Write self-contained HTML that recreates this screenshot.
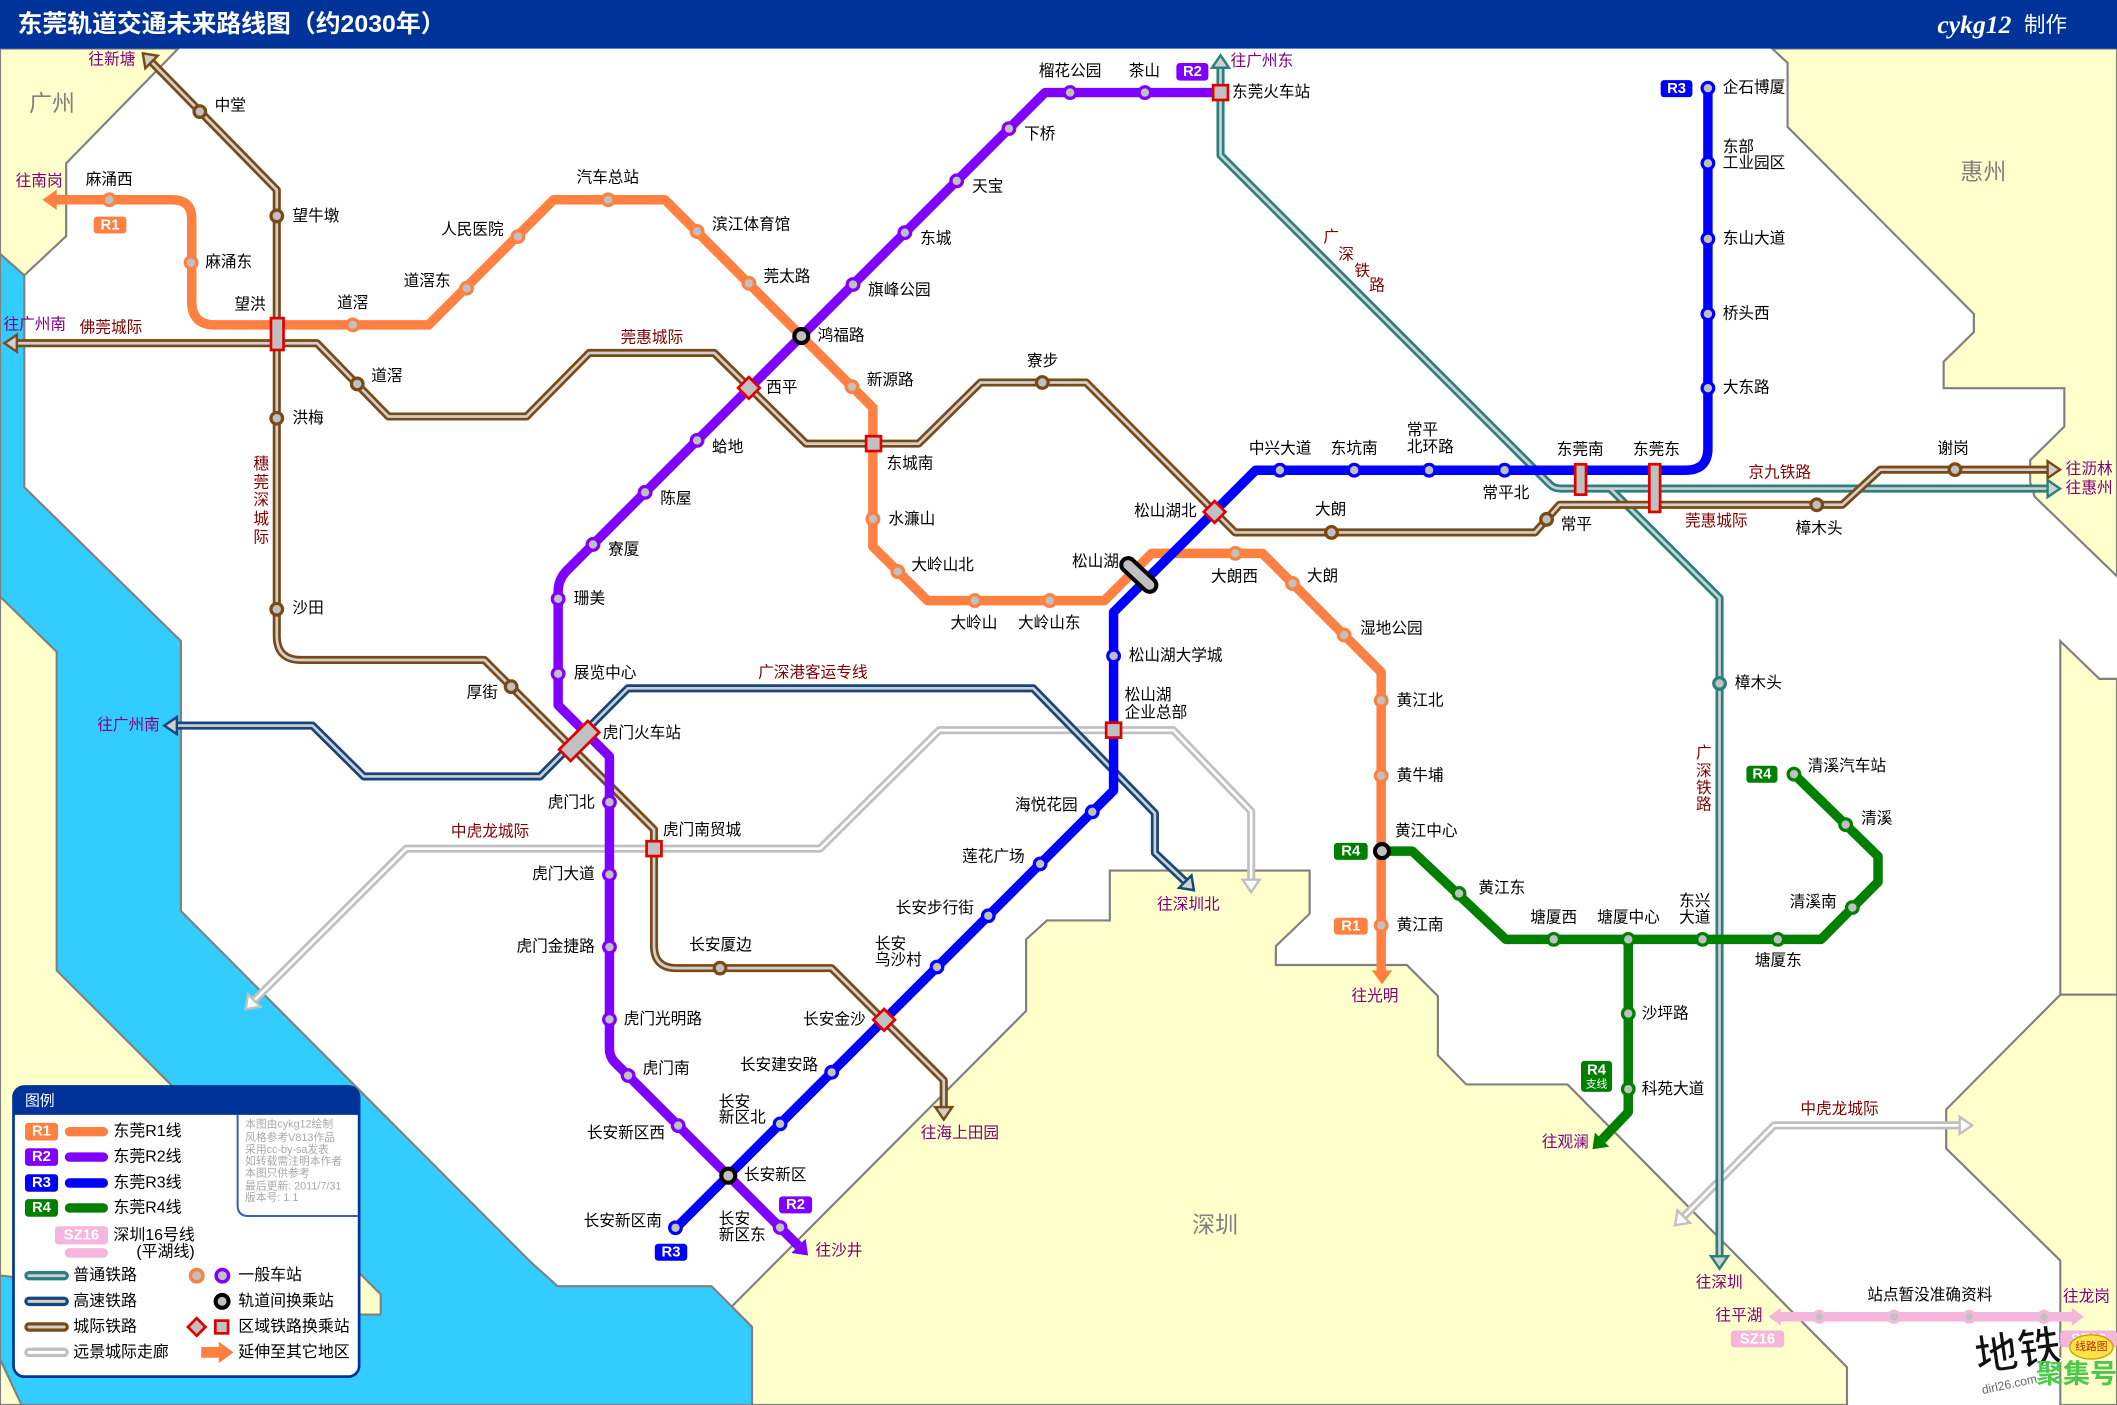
<!DOCTYPE html>
<html><head><meta charset="utf-8">
<style>
html,body{margin:0;padding:0;background:#fff;}
svg{display:block;}
text{font-family:"Liberation Sans","Noto Sans CJK SC","WenQuanYi Zen Hei",sans-serif;dominant-baseline:central;}
.s{font-size:11.6px;fill:#000;}
.e{font-size:11.6px;fill:#000;text-anchor:end;}
.d{font-size:11.6px;fill:#800080;}
.r{font-size:11.6px;fill:#800000;}
.rm{font-size:11.6px;fill:#800000;text-anchor:middle;}
.g{font-size:17px;fill:#808080;}
.b{font-size:11px;fill:#fff;font-weight:bold;text-anchor:middle;}
.lg{font-size:11.8px;fill:#000;}
.cr{font-size:8px;fill:#A8A8A8;}
</style></head><body>
<svg width="2117" height="1405" viewBox="0 0 1568 1041" preserveAspectRatio="none" xmlns="http://www.w3.org/2000/svg">
<rect width="1568" height="1041" fill="#fff"/>
<!-- land & water -->
<g stroke="#808080" stroke-width="1.6" stroke-linejoin="miter">
<polygon fill="#33CCFF" points="0,188 18,204 18,361 134,475 134,675 393,935 413,953 527,953 542,968 557,983 557,1041 0,1041"/>
<polygon fill="#FFFFCC" points="0,442 42,483 42,719 282,959 282,974 240,974 0,945"/>
<polygon fill="#FFFFCC" points="0,1007 16,1041 0,1041"/>
<polygon fill="#FFFFCC" points="0,36 132,36 49,121 49,175 18,204 0,188"/>
<polygon fill="#FFFFCC" points="1312.6,36 1568,36 1568,427 1507,368 1503.7,357.5 1503.7,341 1529,316 1529,287.6 1439.6,287.6 1439.6,268 1462,246 1462,232.6 1324,94 1324,46.6"/>
<polygon fill="#FFFFCC" points="1526,475 1555,503 1568,503 1568,737 1526,737"/>
<polygon fill="#FFFFCC" points="1526,737 1568,737 1568,1041 1526,1041 1526,934 1441.5,851 1441.5,822"/>
<polygon fill="#FFFFCC" points="557,1041 557,983 542,968 760,749 760,696 775.5,682 822,682 822,645 970,645 970,677 945,701 945,715 1042,715 1065,738 1065,782 1086,803.5 1161,803.5 1368,1013 1368,1041"/>
</g>
<text class="g" x="21.5" y="76.5">广州</text>
<text class="g" x="1452" y="127">惠州</text>
<text class="g" x="883" y="907.4">深圳</text>

<!-- header -->
<rect x="0" y="0" width="1568" height="36" fill="#003399"/>
<text x="13" y="18" font-size="18" font-weight="bold" fill="#fff" textLength="317" lengthAdjust="spacingAndGlyphs">东莞轨道交通未来路线图（约2030年）</text>
<text x="1435" y="18" font-size="19" font-style="italic" font-weight="bold" fill="#fff" style="font-family:'Liberation Serif',serif">cykg12</text>
<text x="1499" y="18" font-size="16" fill="#fff">制作</text>

<!-- future corridors -->
<g fill="none" stroke-linejoin="round">
<g stroke="#C0C0C0" stroke-width="6">
<path d="M188,741.5 L300.9,628.8 L607.4,628.8 L695.7,541 L869,541 L926.7,601 L926.7,652"/>
<path d="M1247,901.5 L1314,833.8 L1452,833.8"/>
</g>
<g stroke="#fff" stroke-width="2">
<path d="M188,741.5 L300.9,628.8 L607.4,628.8 L695.7,541 L869,541 L926.7,601 L926.7,652"/>
<path d="M1247,901.5 L1314,833.8 L1452,833.8"/>
</g>
</g>
<g fill="#fff" stroke="#C0C0C0" stroke-width="1.8">
<polygon points="181.9,747.7 192.9,745.9 183.7,736.7"/>
<polygon points="926.7,661 920.4,651.8 933,651.8"/>
<polygon points="1240.7,907.8 1251.7,906 1242.5,896.8"/>
<polygon points="1460.7,833.8 1451.5,827.5 1451.5,840.1"/>
</g>

<!-- high speed -->
<g fill="none" stroke-linejoin="round">
<path stroke="#17467A" stroke-width="6" d="M131,537.6 L231.5,537.6 L269.5,575.3 L400,575.3 L465,510 L765.3,510 L855.4,602.5 L855.4,631.9 L877.9,653.2"/>
<path stroke="#D0D0D0" stroke-width="2" d="M131,537.6 L231.5,537.6 L269.5,575.3 L400,575.3 L465,510 L765.3,510 L855.4,602.5 L855.4,631.9 L877.9,653.2"/>
<!-- teal -->
<path stroke="#2A8080" stroke-width="6" d="M904,50.2 L904,115 L1148,359 Q1151,362 1156,362 L1516.6,362"/>
<path stroke="#2A8080" stroke-width="6" d="M1192.6,362 L1273.6,443 L1273.6,930.8"/>
<path stroke="#D0D0D0" stroke-width="2" d="M904,50.2 L904,115 L1148,359 Q1151,362 1156,362 L1516.6,362"/>
<path stroke="#D0D0D0" stroke-width="2" d="M1192.6,362 L1273.6,443 L1273.6,930.8"/>
<!-- brown -->
<path stroke="#7A4A16" stroke-width="6" d="M112.2,45.9 L205,140.7 L205,471 Q205,489 223,489 L358.8,489 L484.4,614.6 L484.4,700.7 Q484.4,717.3 501,717.3 L615.9,717.3 L699,800.4 L699,820.3"/>
<path stroke="#7A4A16" stroke-width="6" d="M12.5,254.3 L234.8,254.3 L287.7,308.6 L390,308.6 L436.4,261.5 L529,261.5 L597,328.7 L680.4,328.7 L726.3,283.4 L804.5,283.4 L914.8,394.5 L1137,394.5 L1155,374 L1364.6,374 L1392.6,348 L1516.6,348"/>
<path stroke="#D0D0D0" stroke-width="2" d="M112.2,45.9 L205,140.7 L205,471 Q205,489 223,489 L358.8,489 L484.4,614.6 L484.4,700.7 Q484.4,717.3 501,717.3 L615.9,717.3 L699,800.4 L699,820.3"/>
<path stroke="#D0D0D0" stroke-width="2" d="M12.5,254.3 L234.8,254.3 L287.7,308.6 L390,308.6 L436.4,261.5 L529,261.5 L597,328.7 L680.4,328.7 L726.3,283.4 L804.5,283.4 L914.8,394.5 L1137,394.5 L1155,374 L1364.6,374 L1392.6,348 L1516.6,348"/>
</g>
<g fill="#D0D0D0" stroke-width="1.8">
<polygon stroke="#7A4A16" points="105.8,39.5 116.8,41.3 107.6,50.5"/>
<polygon stroke="#7A4A16" points="3.3,254.3 12.5,248 12.5,260.6"/>
<polygon stroke="#7A4A16" points="699,829.5 692.7,820.3 705.3,820.3"/>
<polygon stroke="#7A4A16" points="1525.8,348 1516.6,341.7 1516.6,354.3"/>
<polygon stroke="#17467A" points="121.7,537.6 131,531.3 131,543.9"/>
<polygon stroke="#17467A" points="884.3,659.6 882.5,648.6 873.3,657.8"/>
<polygon stroke="#2A8080" points="1525.8,362 1516.6,355.7 1516.6,368.3"/>
<polygon stroke="#2A8080" points="904,41 897.7,50.2 910.3,50.2"/>
<polygon stroke="#2A8080" points="1273.6,940 1267.3,930.8 1279.9,930.8"/>
</g>

<!-- metro lines -->
<g fill="none" stroke-width="7" stroke-linejoin="round">
<path stroke="#FF8040" d="M41,148 L127.3,148 Q142,148 142,162 L142,223.5 Q142,240.7 159,240.7 L317.5,240.7 L410,148 L492.5,148 L646.5,302 L646.5,405 L687,445 L818,445 L853,410 L935,410 L1023,498 L1023,720"/>
<path stroke="#8000FF" d="M904,68.6 L774,68.6 L420,422.6 Q413.4,429.2 413.4,438.5 L413.4,522.5 L451.4,560.5 L451.4,777 Q451.4,783.1 455.7,787.4 L591.4,923.1"/>
<path stroke="#0000FF" d="M1265,65.3 L1265,332 Q1265,348.4 1248.6,348.4 L930,348.4 L824.8,453.6 L824.8,585.7 L500.3,910.2"/>
<path stroke="#008000" d="M1023.6,630.6 L1046,630.6 L1115.3,696 L1348.8,696 L1391,653.5 L1391,634.4 L1328.7,573.6"/>
<path stroke="#008000" d="M1206,696 L1206,824 L1186.6,844.4"/>
<path stroke="#F4B6DA" d="M1318,975.6 L1536,975.6"/>
</g>
<polygon fill="#FF8040" points="31.4,148 42,140.5 42,155.5"/>
<polygon fill="#FF8040" points="1023.6,729.3 1016,719 1031.2,719"/>
<polygon fill="#8000FF" points="598.5,930.2 596.7,917.8 586.1,928.4"/>
<polygon fill="#008000" points="1179.5,851.5 1191.9,849.7 1181.3,839.1"/>
<polygon fill="#F4B6DA" points="1310,975.6 1319,969 1319,982.2"/>
<polygon fill="#F4B6DA" points="1543.6,975.6 1534.6,969 1534.6,982.2"/>

<!-- stations -->
<g fill="#C0C0C0" stroke-width="2.4">
<g stroke="#FF8040">
<circle cx="81" cy="148" r="4.3"/><circle cx="141.5" cy="194.6" r="4.3"/><circle cx="261.3" cy="240.7" r="4.3"/><circle cx="345.6" cy="213.6" r="4.3"/><circle cx="383.6" cy="175.3" r="4.3"/><circle cx="450.4" cy="148" r="4.3"/><circle cx="516.3" cy="171.5" r="4.3"/><circle cx="554.7" cy="209.9" r="4.3"/><circle cx="631" cy="286.5" r="4.3"/><circle cx="646.5" cy="384.5" r="4.3"/><circle cx="665" cy="423.5" r="4.3"/><circle cx="722" cy="445" r="4.3"/><circle cx="777.5" cy="445" r="4.3"/><circle cx="915" cy="410" r="4.3"/><circle cx="957.3" cy="432.3" r="4.3"/><circle cx="995.5" cy="470.5" r="4.3"/><circle cx="1023" cy="519" r="4.3"/><circle cx="1023" cy="574.7" r="4.3"/><circle cx="1023" cy="685.6" r="4.3"/>
</g>
<g stroke="#8000FF">
<circle cx="792.6" cy="68.6" r="4.3"/><circle cx="848" cy="68.6" r="4.3"/><circle cx="747.3" cy="95.3" r="4.3"/><circle cx="708.6" cy="134" r="4.3"/><circle cx="670.2" cy="172.4" r="4.3"/><circle cx="631.8" cy="210.8" r="4.3"/><circle cx="516.3" cy="326.3" r="4.3"/><circle cx="477.8" cy="364.8" r="4.3"/><circle cx="439.2" cy="403.4" r="4.3"/><circle cx="413.4" cy="443.7" r="4.3"/><circle cx="413.4" cy="499.2" r="4.3"/><circle cx="451.4" cy="594.4" r="4.3"/><circle cx="451.4" cy="648" r="4.3"/><circle cx="451.4" cy="701.7" r="4.3"/><circle cx="451.4" cy="755.3" r="4.3"/><circle cx="465.2" cy="796.9" r="4.3"/><circle cx="502.3" cy="834" r="4.3"/><circle cx="577.8" cy="909.5" r="4.3"/>
</g>
<g stroke="#0000FF">
<circle cx="1265" cy="65.3" r="4.3"/><circle cx="1265" cy="121" r="4.3"/><circle cx="1265" cy="177" r="4.3"/><circle cx="1265" cy="232.6" r="4.3"/><circle cx="1265" cy="287.6" r="4.3"/><circle cx="1114.4" cy="348.4" r="4.3"/><circle cx="1058.5" cy="348.4" r="4.3"/><circle cx="1003" cy="348.4" r="4.3"/><circle cx="948" cy="348.4" r="4.3"/><circle cx="824.8" cy="486" r="4.3"/><circle cx="809" cy="601.5" r="4.3"/><circle cx="770.4" cy="640.1" r="4.3"/><circle cx="732" cy="678.5" r="4.3"/><circle cx="694" cy="716.5" r="4.3"/><circle cx="616" cy="794.5" r="4.3"/><circle cx="577.8" cy="832.7" r="4.3"/><circle cx="500.3" cy="909.7" r="4.3"/>
</g>
<g stroke="#008000">
<circle cx="1080.7" cy="662" r="4.3"/><circle cx="1150.8" cy="696" r="4.3"/><circle cx="1206" cy="696" r="4.3"/><circle cx="1261" cy="696" r="4.3"/><circle cx="1316.8" cy="696" r="4.3"/><circle cx="1372" cy="672.4" r="4.3"/><circle cx="1367" cy="611" r="4.3"/><circle cx="1328.7" cy="573.6" r="4.3"/><circle cx="1206" cy="751" r="4.3"/><circle cx="1206" cy="807" r="4.3"/>
</g>
<g stroke="#F4B6DA">
<circle cx="1347.5" cy="975.6" r="4"/><circle cx="1402.8" cy="975.6" r="4"/><circle cx="1458.5" cy="975.6" r="4"/><circle cx="1513.9" cy="975.6" r="4"/>
</g>
<g stroke="#7A4A16">
<circle cx="148" cy="82.7" r="4.3"/><circle cx="205" cy="160" r="4.3"/><circle cx="205" cy="309.9" r="4.3"/><circle cx="205" cy="451.4" r="4.3"/><circle cx="378.6" cy="508.8" r="4.3"/><circle cx="264.6" cy="284.5" r="4.3"/><circle cx="772" cy="283.4" r="4.3"/><circle cx="986.2" cy="394.5" r="4.3"/><circle cx="1145.5" cy="384.8" r="4.3"/><circle cx="1345.6" cy="374" r="4.3"/><circle cx="1448" cy="348" r="4.3"/><circle cx="533.3" cy="717.3" r="4.3"/>
</g>
<circle stroke="#2A8080" cx="1273.6" cy="506.4" r="4.3"/>
<g stroke="#000" stroke-width="3">
<circle cx="593.5" cy="249" r="5.2"/><circle cx="539.4" cy="871.1" r="5.2"/><circle cx="1023.6" cy="630.6" r="5.2"/>
</g>
</g>
<!-- 松山湖 pill -->
<path d="M835.5,418.5 L851.5,433.5" stroke="#000" stroke-width="13" stroke-linecap="round"/>
<path d="M835.5,418.5 L851.5,433.5" stroke="#C0C0C0" stroke-width="7" stroke-linecap="round"/>
<!-- regional interchanges -->
<g fill="#C0C0C0" stroke="#E00000" stroke-width="2">
<rect x="200.7" y="235.7" width="9.3" height="23.6"/>
<rect x="898.5" y="63.1" width="11" height="11"/>
<rect x="641.5" y="323.2" width="11" height="11"/>
<rect x="819.3" y="535.5" width="11" height="11"/>
<rect x="478.9" y="623.3" width="11" height="11"/>
<rect x="1166.7" y="344" width="8" height="22.5"/>
<rect x="1221.6" y="344" width="8" height="35.3"/>
<polygon points="554.7,279.4 562.7,287.4 554.7,295.4 546.7,287.4"/>
<polygon points="899.6,371.3 907.6,379.3 899.6,387.3 891.6,379.3"/>
<polygon points="654.8,747.6 662.8,755.6 654.8,763.6 646.8,755.6"/>
<rect x="-15" y="-6" width="30" height="12" transform="translate(429,549) rotate(-45)"/>
</g>

<!-- badges -->
<g>
<rect x="69.4" y="160.5" width="24.2" height="12.5" rx="2.5" fill="#FF8040"/><text class="b" x="81.5" y="167">R1</text>
<rect x="988" y="680" width="25" height="12.5" rx="2.5" fill="#FF8040"/><text class="b" x="1000.5" y="686.5">R1</text>
<rect x="871.3" y="46.7" width="23.7" height="13" rx="2.5" fill="#8000FF"/><text class="b" x="883.2" y="53.4">R2</text>
<rect x="577" y="886.4" width="24.5" height="12.6" rx="2.5" fill="#8000FF"/><text class="b" x="589.2" y="892.9">R2</text>
<rect x="1230" y="59.4" width="23.5" height="12.6" rx="2.5" fill="#0000FF"/><text class="b" x="1241.8" y="65.9">R3</text>
<rect x="485" y="921.5" width="24" height="12.6" rx="2.5" fill="#0000FF"/><text class="b" x="497" y="928">R3</text>
<rect x="988" y="624.5" width="25" height="12.6" rx="2.5" fill="#008000"/><text class="b" x="1000.5" y="631">R4</text>
<rect x="1293.5" y="567.4" width="23" height="12.6" rx="2.5" fill="#008000"/><text class="b" x="1305" y="573.9">R4</text>
<rect x="1171" y="786" width="23" height="23" rx="2.5" fill="#008000"/><text class="b" x="1182.5" y="793">R4</text><text x="1182.5" y="803.5" font-size="8" fill="#fff" text-anchor="middle">支线</text>
<rect x="1282" y="985.8" width="39.5" height="12.5" rx="2.5" fill="#F4B6DA"/><text class="b" x="1301.7" y="992.3">SZ16</text>
<rect x="1526" y="985.8" width="42" height="12.5" rx="2.5" fill="#F4B6DA"/><text class="b" x="1547" y="992.3">SZ16</text>
</g>

<!-- station labels -->
<g>
<text class="s" x="63.5" y="133.3">麻涌西</text>
<text class="s" x="152" y="194.6">麻涌东</text>
<text class="s" x="173.6" y="226">望洪</text>
<text class="s" x="249.7" y="224.7">道滘</text>
<text class="s" x="299" y="208.6">道滘东</text>
<text class="s" x="326.7" y="170.4">人民医院</text>
<text class="s" x="427" y="132">汽车总站</text>
<text class="s" x="527.4" y="166.7">滨江体育馆</text>
<text class="s" x="565.5" y="205.2">莞太路</text>
<text class="s" x="605.6" y="249">鸿福路</text>
<text class="s" x="642" y="282">新源路</text>
<text class="s" x="656.6" y="343.7">东城南</text>
<text class="s" x="658" y="385">水濂山</text>
<text class="s" x="675" y="419">大岭山北</text>
<text class="s" x="704" y="462">大岭山</text>
<text class="s" x="754" y="462">大岭山东</text>
<text class="s" x="794" y="416.3">松山湖</text>
<text class="s" x="897" y="427.4">大朗西</text>
<text class="s" x="968" y="427">大朗</text>
<text class="s" x="1007.4" y="466">湿地公园</text>
<text class="s" x="1034.4" y="519.3">黄江北</text>
<text class="s" x="1034.4" y="574.8">黄牛埔</text>
<text class="s" x="1033.2" y="616.1">黄江中心</text>
<text class="s" x="1034.4" y="685.6">黄江南</text>
<text class="s" x="769.4" y="53">榴花公园</text>
<text class="s" x="836" y="53">茶山</text>
<text class="s" x="912.5" y="68.6">东莞火车站</text>
<text class="s" x="758.5" y="99.6">下桥</text>
<text class="s" x="720" y="138.5">天宝</text>
<text class="s" x="681.5" y="177">东城</text>
<text class="s" x="643" y="215.3">旗峰公园</text>
<text class="s" x="567.5" y="287.4">西平</text>
<text class="s" x="527.4" y="331.4">蛤地</text>
<text class="s" x="489" y="369.6">陈屋</text>
<text class="s" x="450.4" y="407.4">寮厦</text>
<text class="s" x="425" y="443.7">珊美</text>
<text class="s" x="425" y="499.2">展览中心</text>
<text class="s" x="446.4" y="543.6">虎门火车站</text>
<text class="e" x="440.5" y="595">虎门北</text>
<text class="e" x="440.5" y="648">虎门大道</text>
<text class="e" x="440.5" y="701.7">虎门金捷路</text>
<text class="s" x="462" y="755.3">虎门光明路</text>
<text class="s" x="476" y="792">虎门南</text>
<text class="e" x="492.6" y="840">长安新区西</text>
<text class="s" x="551" y="871">长安新区</text>
<text class="s" x="532.4" y="903.7">长安</text>
<text class="s" x="532.4" y="915.6">新区东</text>
<text class="s" x="1276" y="65.3">企石博厦</text>
<text class="s" x="1276" y="109.2">东部</text>
<text class="s" x="1276" y="121">工业园区</text>
<text class="s" x="1276" y="177">东山大道</text>
<text class="s" x="1276" y="232.6">桥头西</text>
<text class="s" x="1276" y="287.6">大东路</text>
<text class="s" x="1209.5" y="333.6">东莞东</text>
<text class="s" x="1153" y="333.6">东莞南</text>
<text class="s" x="1098" y="365.7">常平北</text>
<text class="s" x="1042" y="319">常平</text>
<text class="s" x="1042" y="331.4">北环路</text>
<text class="s" x="985.6" y="332.8">东坑南</text>
<text class="s" x="925" y="332.8">中兴大道</text>
<text class="s" x="840" y="379">松山湖北</text>
<text class="s" x="836" y="486">松山湖大学城</text>
<text class="s" x="833" y="515.3">松山湖</text>
<text class="s" x="833" y="528.4">企业总部</text>
<text class="s" x="751.8" y="596.7">海悦花园</text>
<text class="s" x="712.6" y="634.8">莲花广场</text>
<text class="s" x="663.4" y="673.3">长安步行街</text>
<text class="s" x="648" y="699.8">长安</text>
<text class="s" x="648" y="711.5">乌沙村</text>
<text class="s" x="594.8" y="755.6">长安金沙</text>
<text class="s" x="548" y="789.6">长安建安路</text>
<text class="s" x="532.4" y="816.8">长安</text>
<text class="s" x="532.4" y="828.4">新区北</text>
<text class="s" x="432.3" y="905">长安新区南</text>
<text class="s" x="1095" y="658.3">黄江东</text>
<text class="s" x="1133.4" y="680">塘厦西</text>
<text class="s" x="1183" y="680">塘厦中心</text>
<text class="s" x="1243.7" y="667.8">东兴</text>
<text class="s" x="1243.7" y="680">大道</text>
<text class="s" x="1299.8" y="712.2">塘厦东</text>
<text class="s" x="1325.6" y="668.6">清溪南</text>
<text class="s" x="1378.5" y="606.7">清溪</text>
<text class="s" x="1339" y="568">清溪汽车站</text>
<text class="s" x="1216" y="751.4">沙坪路</text>
<text class="s" x="1216" y="807.2">科苑大道</text>
<text class="s" x="159" y="78.5">中堂</text>
<text class="s" x="216.6" y="160.5">望牛墩</text>
<text class="s" x="216.6" y="310">洪梅</text>
<text class="s" x="216.6" y="451">沙田</text>
<text class="s" x="345.6" y="513.4">厚街</text>
<text class="s" x="275" y="279">道滘</text>
<text class="s" x="760.7" y="267.8">寮步</text>
<text class="s" x="974" y="377.8">大朗</text>
<text class="s" x="1156" y="388.9">常平</text>
<text class="s" x="1330" y="391.8">樟木头</text>
<text class="s" x="1435" y="332.6">谢岗</text>
<text class="s" x="1285" y="506.4">樟木头</text>
<text class="s" x="510.5" y="700.6">长安厦边</text>
<text class="s" x="491" y="615.5">虎门南贸城</text>
<text class="s" x="1383" y="960">站点暂没准确资料</text>
</g>
<!-- destinations -->
<g>
<text class="d" x="65.5" y="44.4">往新塘</text>
<text class="d" x="11.6" y="134.6">往南岗</text>
<text class="d" x="2.6" y="240.7">往广州南</text>
<text class="d" x="72" y="537.6">往广州南</text>
<text class="d" x="911.5" y="45.6">往广州东</text>
<text class="d" x="1530" y="348">往沥林</text>
<text class="d" x="1530" y="362">往惠州</text>
<text class="d" x="857" y="670.4">往深圳北</text>
<text class="d" x="1001" y="738.5">往光明</text>
<text class="d" x="682" y="840">往海上田园</text>
<text class="d" x="604" y="927">往沙井</text>
<text class="d" x="1142" y="846.4">往观澜</text>
<text class="d" x="1256" y="950.8">往深圳</text>
<text class="d" x="1270.6" y="975">往平湖</text>
<text class="d" x="1528" y="961">往龙岗</text>
</g>
<!-- line names -->
<g>
<text class="r" x="59" y="243">佛莞城际</text>
<text class="r" x="459.6" y="250.4">莞惠城际</text>
<text class="r" x="1248" y="386.3">莞惠城际</text>
<text class="r" x="1295" y="350.6">京九铁路</text>
<text class="r" x="561.5" y="498.5">广深港客运专线</text>
<text class="r" x="334" y="616.3">中虎龙城际</text>
<text class="r" x="1333.5" y="822">中虎龙城际</text>
<text class="rm" x="986" y="176">广</text>
<text class="rm" x="997" y="189">深</text>
<text class="rm" x="1009" y="201">铁</text>
<text class="rm" x="1020" y="212">路</text>
<text class="rm" x="1262" y="558.4">广</text>
<text class="rm" x="1262" y="571.7">深</text>
<text class="rm" x="1262" y="584.2">铁</text>
<text class="rm" x="1262" y="596.3">路</text>
<text class="rm" x="193.5" y="344">穗</text>
<text class="rm" x="193.5" y="357.7">莞</text>
<text class="rm" x="193.5" y="371">深</text>
<text class="rm" x="193.5" y="385">城</text>
<text class="rm" x="193.5" y="398.5">际</text>
</g>

<!-- legend -->
<g>
<rect x="10" y="805" width="256" height="215" rx="8" fill="#fff" stroke="#003399" stroke-width="2"/>
<path d="M10,826 L10,813 Q10,805 18,805 L258,805 Q266,805 266,813 L266,826 Z" fill="#003399"/>
<text x="18.5" y="816" font-size="11" fill="#fff">图例</text>
<path d="M176,826 L176,893 Q176,901 184,901 L265,901" fill="none" stroke="#3A62A8" stroke-width="1.5"/>
<text class="cr" x="181.5" y="833.3">本图由cykg12绘制</text>
<text class="cr" x="181.5" y="843">风格参考V813作品</text>
<text class="cr" x="181.5" y="851.9">采用cc-by-sa发表</text>
<text class="cr" x="181.5" y="860.5">如转载需注明本作者</text>
<text class="cr" x="181.5" y="869.6">本图只供参考</text>
<text class="cr" x="181.5" y="879">最后更新: 2011/7/31</text>
<text class="cr" x="181.5" y="887.7">版本号: 1.1</text>

<rect x="18.5" y="832" width="24.5" height="13" rx="2.5" fill="#FF8040"/><text class="b" x="30.7" y="838.5">R1</text>
<rect x="18.5" y="850.8" width="24.5" height="13" rx="2.5" fill="#8000FF"/><text class="b" x="30.7" y="857.3">R2</text>
<rect x="18.5" y="870" width="24.5" height="13" rx="2.5" fill="#0000FF"/><text class="b" x="30.7" y="876.5">R3</text>
<rect x="18.5" y="888.5" width="24.5" height="13" rx="2.5" fill="#008000"/><text class="b" x="30.7" y="895">R4</text>
<rect x="40.7" y="908.6" width="39.3" height="13.4" rx="2.5" fill="#F4B6DA"/><text class="b" x="60.3" y="915.3">SZ16</text>
<g stroke-width="7" stroke-linecap="round">
<line x1="51.5" y1="838.5" x2="76.5" y2="838.5" stroke="#FF8040"/>
<line x1="51.5" y1="857.3" x2="76.5" y2="857.3" stroke="#8000FF"/>
<line x1="51.5" y1="876.5" x2="76.5" y2="876.5" stroke="#0000FF"/>
<line x1="51.5" y1="895" x2="76.5" y2="895" stroke="#008000"/>
<line x1="51.5" y1="928.3" x2="76.5" y2="928.3" stroke="#F4B6DA"/>
</g>
<text class="lg" x="84" y="838.5">东莞R1线</text>
<text class="lg" x="84" y="857.3">东莞R2线</text>
<text class="lg" x="84" y="876.5">东莞R3线</text>
<text class="lg" x="84" y="895">东莞R4线</text>
<text class="lg" x="84" y="915.3">深圳16号线</text>
<text class="lg" x="101" y="927.5">(平湖线)</text>
<g stroke-linecap="round">
<line x1="21.5" y1="945.2" x2="47.5" y2="945.2" stroke="#2A8080" stroke-width="7"/>
<line x1="21.5" y1="945.2" x2="47.5" y2="945.2" stroke="#D0D0D0" stroke-width="2.2"/>
<line x1="21.5" y1="964.2" x2="47.5" y2="964.2" stroke="#17467A" stroke-width="7"/>
<line x1="21.5" y1="964.2" x2="47.5" y2="964.2" stroke="#D0D0D0" stroke-width="2.2"/>
<line x1="21.5" y1="983.2" x2="47.5" y2="983.2" stroke="#7A4A16" stroke-width="7"/>
<line x1="21.5" y1="983.2" x2="47.5" y2="983.2" stroke="#D0D0D0" stroke-width="2.2"/>
<line x1="21.5" y1="1002" x2="47.5" y2="1002" stroke="#C0C0C0" stroke-width="7"/>
<line x1="21.5" y1="1002" x2="47.5" y2="1002" stroke="#fff" stroke-width="2.2"/>
</g>
<text class="lg" x="54.3" y="945.2">普通铁路</text>
<text class="lg" x="54.3" y="964.2">高速铁路</text>
<text class="lg" x="54.3" y="983.2">城际铁路</text>
<text class="lg" x="54.3" y="1002">远景城际走廊</text>
<circle cx="145.7" cy="945.2" r="4.6" fill="#C0C0C0" stroke="#FF8040" stroke-width="2.6"/>
<circle cx="164.7" cy="945.2" r="4.6" fill="#C0C0C0" stroke="#8000FF" stroke-width="2.6"/>
<circle cx="164.5" cy="964.2" r="4.8" fill="#C0C0C0" stroke="#000" stroke-width="3"/>
<polygon points="145.7,976.7 152.2,983.2 145.7,989.7 139.2,983.2" fill="#C0C0C0" stroke="#E00000" stroke-width="2"/>
<rect x="159.5" y="978.5" width="9.4" height="9.4" fill="#C0C0C0" stroke="#E00000" stroke-width="2"/>
<polygon points="149,998 162,998 162,994 173,1002 162,1010 162,1006 149,1006" fill="#FF8040"/>
<text class="lg" x="176.5" y="945.2">一般车站</text>
<text class="lg" x="176.5" y="964.2">轨道间换乘站</text>
<text class="lg" x="176.5" y="983.2">区域铁路换乘站</text>
<text class="lg" x="176.5" y="1002">延伸至其它地区</text>
</g>

<!-- watermark -->
<g>
<text x="1463" y="1006" font-size="32" font-weight="bold" fill="#111" stroke="#fff" stroke-width="1.2" transform="rotate(-8 1463 1006)">地铁</text>
<ellipse cx="1549" cy="998" rx="16" ry="9" fill="#FFE24A" stroke="#C8A000" stroke-width="1"/>
<text x="1549" y="998" font-size="8" fill="#B03000" text-anchor="middle">线路图</text>
<text x="1508" y="1018" font-size="20" font-weight="bold" fill="#4CC84C">聚集号</text>
<text x="1468" y="1030" font-size="9" fill="#666" transform="rotate(-12 1468 1030)">dirl26.com</text>
</g>
</svg>
</body></html>
